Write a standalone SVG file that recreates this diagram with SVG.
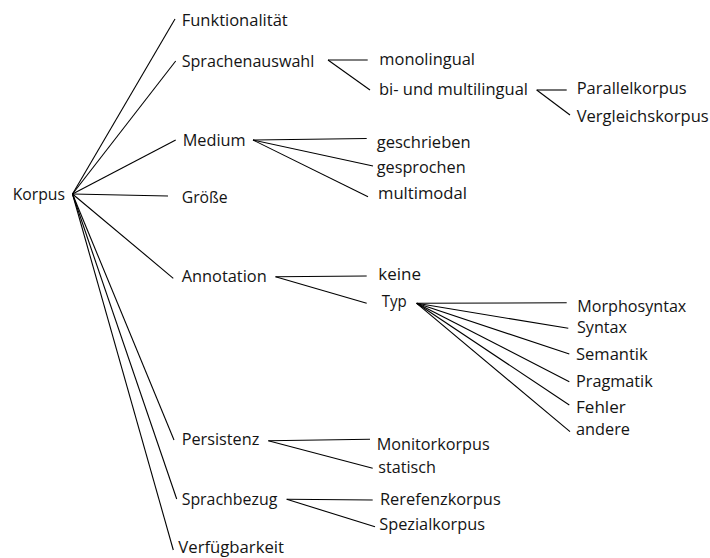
<svg xmlns="http://www.w3.org/2000/svg" width="710" height="558" viewBox="0 0 710 558">
<style>
text{font-family:"Open Sans","Noto Sans","Liberation Sans",sans-serif;font-size:16px;fill:#141414}
.c line{stroke:#000;stroke-width:1.1;fill:none}
</style>
<rect width="710" height="558" fill="#fff"/>
<g id="connectors" class="c">
<line x1="72.5" y1="194" x2="175" y2="19"/>
<line x1="72.5" y1="194" x2="175.7" y2="61"/>
<line x1="72.5" y1="194" x2="175.7" y2="140"/>
<line x1="72.5" y1="194" x2="168" y2="196"/>
<line x1="72.5" y1="194" x2="173.3" y2="278.3"/>
<line x1="72.5" y1="194" x2="174" y2="440"/>
<line x1="72.5" y1="194" x2="176.7" y2="499"/>
<line x1="72.5" y1="194" x2="173.3" y2="550"/>
<line x1="328" y1="60" x2="367.7" y2="60"/>
<line x1="328" y1="60" x2="370" y2="90"/>
<line x1="536.7" y1="90" x2="566.7" y2="90"/>
<line x1="536.7" y1="90" x2="570" y2="115"/>
<line x1="253" y1="140" x2="366.7" y2="138.5"/>
<line x1="253" y1="140" x2="373" y2="166"/>
<line x1="253" y1="140" x2="368" y2="196.7"/>
<line x1="275.5" y1="276.7" x2="366.7" y2="276"/>
<line x1="275.5" y1="276.7" x2="366.7" y2="303.3"/>
<line x1="416.7" y1="303.3" x2="566.7" y2="302.7"/>
<line x1="416.7" y1="303.3" x2="568.3" y2="328.3"/>
<line x1="416.7" y1="303.3" x2="569.3" y2="354"/>
<line x1="416.7" y1="303.3" x2="569.3" y2="381.7"/>
<line x1="416.7" y1="303.3" x2="569.3" y2="405"/>
<line x1="416.7" y1="303.3" x2="570" y2="431.7"/>
<line x1="268.3" y1="440.7" x2="370" y2="439.3"/>
<line x1="268.3" y1="440.7" x2="372.7" y2="468.3"/>
<line x1="286.7" y1="499.3" x2="372.7" y2="500"/>
<line x1="286.7" y1="499.3" x2="375" y2="526.7"/>
</g>
<g id="korpus"><text x="12.7" y="200" textLength="52.3" lengthAdjust="spacingAndGlyphs">Korpus</text></g>
<g id="funktionalitaet"><text x="181.7" y="26" textLength="106" lengthAdjust="spacingAndGlyphs">Funktionalität</text></g>
<g id="sprachenauswahl"><text x="181.7" y="66.5" textLength="132.6" lengthAdjust="spacingAndGlyphs">Sprachenauswahl</text></g>
<g id="monolingual"><text x="379.3" y="65" textLength="95.7" lengthAdjust="spacingAndGlyphs">monolingual</text></g>
<g id="bimultilingual"><text x="379" y="95" textLength="149" lengthAdjust="spacingAndGlyphs">bi- und multilingual</text></g>
<g id="parallelkorpus"><text x="576.7" y="94.3" textLength="110" lengthAdjust="spacingAndGlyphs">Parallelkorpus</text></g>
<g id="vergleichskorpus"><text x="576.7" y="121.7" textLength="132" lengthAdjust="spacingAndGlyphs">Vergleichskorpus</text></g>
<g id="medium"><text x="182.7" y="145.5" textLength="63" lengthAdjust="spacingAndGlyphs">Medium</text></g>
<g id="geschrieben"><text x="376.7" y="148.3" textLength="94" lengthAdjust="spacingAndGlyphs">geschrieben</text></g>
<g id="gesprochen"><text x="376.7" y="173.3" textLength="89" lengthAdjust="spacingAndGlyphs">gesprochen</text></g>
<g id="multimodal"><text x="378" y="199.3" textLength="89" lengthAdjust="spacingAndGlyphs">multimodal</text></g>
<g id="groesse"><text x="181.7" y="203" textLength="46" lengthAdjust="spacingAndGlyphs">Größe</text></g>
<g id="annotation"><text x="181.7" y="281.7" textLength="85" lengthAdjust="spacingAndGlyphs">Annotation</text></g>
<g id="keine"><text x="378.3" y="280" textLength="42.7" lengthAdjust="spacingAndGlyphs">keine</text></g>
<g id="typ"><text x="381.7" y="307.3" textLength="25" lengthAdjust="spacingAndGlyphs">Typ</text></g>
<g id="morphosyntax"><text x="577.3" y="311.7" textLength="109" lengthAdjust="spacingAndGlyphs">Morphosyntax</text></g>
<g id="syntax"><text x="577" y="333.3" textLength="50" lengthAdjust="spacingAndGlyphs">Syntax</text></g>
<g id="semantik"><text x="576" y="360" textLength="71.7" lengthAdjust="spacingAndGlyphs">Semantik</text></g>
<g id="pragmatik"><text x="576" y="386.7" textLength="76.7" lengthAdjust="spacingAndGlyphs">Pragmatik</text></g>
<g id="fehler"><text x="576" y="412.7" textLength="49.7" lengthAdjust="spacingAndGlyphs">Fehler</text></g>
<g id="andere"><text x="576" y="435" textLength="54" lengthAdjust="spacingAndGlyphs">andere</text></g>
<g id="persistenz"><text x="181.7" y="445" textLength="77.6" lengthAdjust="spacingAndGlyphs">Persistenz</text></g>
<g id="monitorkorpus"><text x="376.7" y="450" textLength="113" lengthAdjust="spacingAndGlyphs">Monitorkorpus</text></g>
<g id="statisch"><text x="378.3" y="472.7" textLength="57.7" lengthAdjust="spacingAndGlyphs">statisch</text></g>
<g id="sprachbezug"><text x="181.7" y="505" textLength="95.6" lengthAdjust="spacingAndGlyphs">Sprachbezug</text></g>
<g id="rerefenzkorpus"><text x="380" y="505" textLength="120.7" lengthAdjust="spacingAndGlyphs">Rerefenzkorpus</text></g>
<g id="spezialkorpus"><text x="379.3" y="530" textLength="105.7" lengthAdjust="spacingAndGlyphs">Spezialkorpus</text></g>
<g id="verfuegbarkeit"><text x="178.3" y="553" textLength="105.7" lengthAdjust="spacingAndGlyphs">Verfügbarkeit</text></g>
</svg>
